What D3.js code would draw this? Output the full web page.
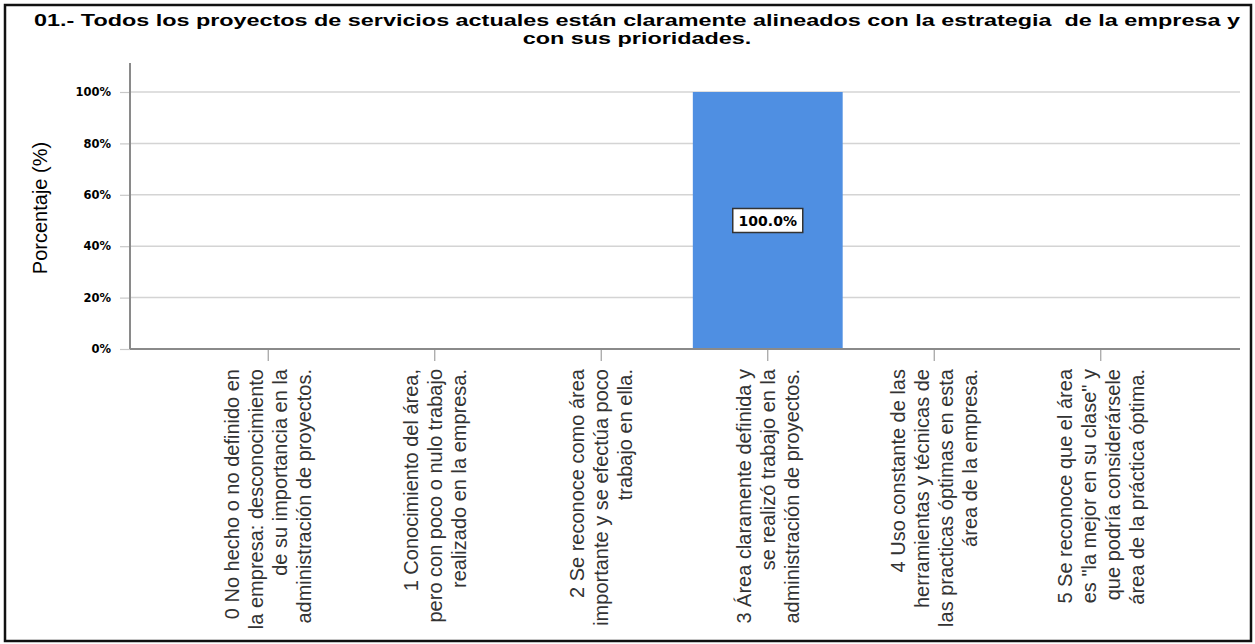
<!DOCTYPE html>
<html>
<head>
<meta charset="utf-8">
<script src="https://cdn.jsdelivr.net/npm/d3@7/dist/d3.min.js"></script>
<style>
  html, body { margin: 0; padding: 0; background: #fff; }
  svg { display: block; }
</style>
</head>
<body>
<svg id="chart" width="1255" height="644"></svg>
<script>
// Response categories (each entry holds the wrapped lines of the axis label)
const categories = [
  ["0 No hecho o no definido en", "la empresa: desconocimiento", "de su importancia en la", "administración de proyectos."],
  ["1 Conocimiento del área,", "pero con poco o nulo trabajo", "realizado en la empresa."],
  ["2 Se reconoce como área", "importante y se efectúa poco", "trabajo en ella."],
  ["3 Área claramente definida y", "se realizó trabajo en la", "administración de proyectos."],
  ["4 Uso constante de las", "herramientas y técnicas de", "las practicas óptimas en esta", "área de la empresa."],
  ["5 Se reconoce que el área", "es \"la mejor en su clase\" y", "que podría considerársele", "área de la práctica óptima."]
];
// Percentage of responses per category
const percentages = [0, 0, 0, 100, 0, 0];
// Y axis tick values (%)
const yTicks = [0, 20, 40, 60, 80, 100];
const titleLines = [
  "01.- Todos los proyectos de servicios actuales están claramente alineados con la estrategia  de la empresa y",
  "con sus prioridades."
];
const yTitle = "Porcentaje (%)";

const svg = d3.select("#chart");

// Outer frame
svg.append("rect")
  .attr("x", 5).attr("y", 5)
  .attr("width", 1246).attr("height", 636)
  .attr("fill", "#fff")
  .attr("stroke", "#111")
  .attr("stroke-width", 2.5);

const plot = { left: 130, right: 1240, top: 63, bottom: 349 };

const x = d3.scaleBand()
  .domain(d3.range(categories.length))
  .range([185, 1184])
  .paddingInner(0.1)
  .paddingOuter(0.05);

const y = d3.scaleLinear()
  .domain([0, 100])
  .range([plot.bottom, 92]);

// Horizontal grid lines
svg.append("g")
  .selectAll("line")
  .data(yTicks.filter(d => d > 0))
  .join("line")
  .attr("x1", plot.left).attr("x2", plot.right)
  .attr("y1", d => y(d)).attr("y2", d => y(d))
  .attr("stroke", "#d4d4d4")
  .attr("stroke-width", 1.5);

// Y axis
const yAxis = d3.axisLeft(y)
  .tickValues(yTicks)
  .tickFormat(d => d + "%")
  .tickSize(10)
  .tickPadding(9);
const gy = svg.append("g")
  .attr("transform", `translate(${plot.left},0)`)
  .call(yAxis);
gy.select(".domain").remove();
gy.selectAll(".tick line").attr("stroke", "#c8c8c8").attr("stroke-width", 1.2);
gy.selectAll(".tick text")
  .attr("font-family", "DejaVu Sans, sans-serif")
  .attr("font-weight", "bold")
  .attr("font-size", 11.5)
  .attr("fill", "#000");

// Bars
svg.append("g")
  .selectAll("rect")
  .data(percentages.map((v, i) => ({ v, i })).filter(d => d.v > 0))
  .join("rect")
  .attr("x", d => x(d.i))
  .attr("width", x.bandwidth())
  .attr("y", d => y(d.v))
  .attr("height", d => y(0) - y(d.v))
  .attr("fill", "#4f8fe2");

// Axis lines
svg.append("line")
  .attr("x1", plot.left).attr("x2", plot.left)
  .attr("y1", plot.top).attr("y2", plot.bottom)
  .attr("stroke", "#8a8a8a").attr("stroke-width", 2);

// X axis with category ticks
const xAxis = d3.axisBottom(x).tickSize(12).tickFormat("");
const gx = svg.append("g")
  .attr("transform", `translate(0,${plot.bottom})`)
  .call(xAxis);
gx.select(".domain").remove();
gx.selectAll(".tick line").attr("stroke", "#a0a0a0").attr("stroke-width", 1.2);

svg.append("line")
  .attr("x1", plot.left).attr("x2", plot.right)
  .attr("y1", plot.bottom).attr("y2", plot.bottom)
  .attr("stroke", "#8a8a8a").attr("stroke-width", 2);

// Rotated, multi-line category labels
const lineGap = 24;
const labels = svg.append("g")
  .selectAll("text")
  .data(categories)
  .join("text")
  .attr("transform", (d, i) => `translate(${x(i) + x.bandwidth() / 2},369) rotate(-90)`)
  .attr("text-anchor", "end")
  .attr("font-family", "Arial, 'Liberation Sans', sans-serif")
  .attr("font-size", 20)
  .attr("fill", "#333");
labels.selectAll("tspan")
  .data(d => d.map((t, j) => ({ t, j, n: d.length })))
  .join("tspan")
  .attr("x", 0)
  .attr("y", d => (d.j - (d.n - 1) / 2) * lineGap)
  .attr("dy", "0.35em")
  .text(d => d.t);

// Value labels in boxes at bar mid-height
const valueLabels = svg.append("g")
  .selectAll("g")
  .data(percentages.map((v, i) => ({ v, i })).filter(d => d.v > 0))
  .join("g")
  .attr("transform", d => `translate(${x(d.i) + x.bandwidth() / 2},${y(d.v / 2)})`);
valueLabels.append("rect")
  .attr("x", -35).attr("y", -12)
  .attr("width", 70).attr("height", 24)
  .attr("fill", "#fff")
  .attr("stroke", "#333")
  .attr("stroke-width", 1.5);
valueLabels.append("text")
  .attr("text-anchor", "middle")
  .attr("dy", "0.36em")
  .attr("font-family", "DejaVu Sans, sans-serif")
  .attr("font-weight", "bold")
  .attr("font-size", 14)
  .attr("fill", "#000")
  .text(d => d.v.toFixed(1) + "%");

// Y axis title
svg.append("text")
  .attr("transform", "translate(40,208) rotate(-90)")
  .attr("text-anchor", "middle")
  .attr("dy", "0.35em")
  .attr("font-family", "Arial, 'Liberation Sans', sans-serif")
  .attr("font-size", 20)
  .attr("fill", "#000")
  .text(yTitle);

// Chart title: bold face, stretched horizontally to span the frame
const titleG = svg.append("g");
const titleTexts = titleG.selectAll("text")
  .data(titleLines)
  .join("text")
  .attr("x", 0)
  .attr("y", (d, i) => 26 + i * 18)
  .attr("text-anchor", "middle")
  .attr("font-family", "Arial, 'Liberation Sans', sans-serif")
  .attr("font-weight", "bold")
  .attr("font-size", 16)
  .attr("fill", "#000")
  .style("white-space", "pre")
  .text(d => d);
const firstWidth = titleTexts.node().getComputedTextLength();
const sx = 1207 / firstWidth;
titleG.attr("transform", `translate(637,0) scale(${sx},1)`);
</script>
</body>
</html>
